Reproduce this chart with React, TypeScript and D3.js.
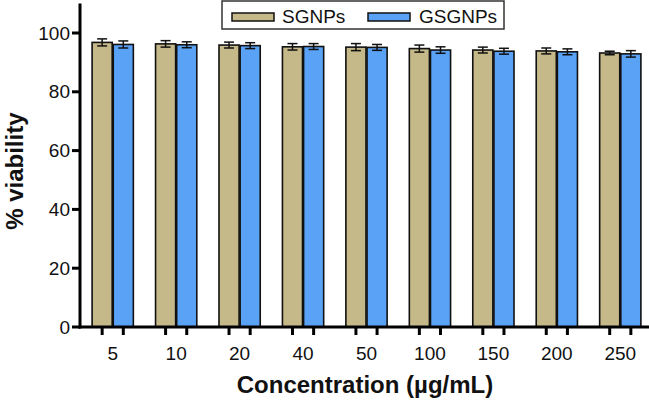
import React, { useEffect, useRef } from 'react';
import * as d3 from 'd3';

const concentrations = ['5', '10', '20', '40', '50', '100', '150', '200', '250'];
const seriesNames = ['SGNPs', 'GSGNPs'];
const sgnpValues = [96.8, 96.3, 95.9, 95.3, 95.2, 94.7, 94.2, 93.9, 93.2];
const sgnpErrors = [1.2, 1.1, 1.0, 1.1, 1.2, 1.2, 1.0, 1.0, 0.6];
const gsgnpValues = [96.1, 96.0, 95.7, 95.4, 95.1, 94.2, 93.8, 93.6, 92.9];
const gsgnpErrors = [1.2, 1.0, 1.0, 1.0, 1.0, 1.1, 1.0, 1.0, 1.1];
const yTicks = [0, 20, 40, 60, 80, 100];

const colors = ['#c5b889', '#5aa2f6'];

const App = () => {
  const ref = useRef(null);

  useEffect(() => {
    const svg = d3.select(ref.current);
    svg.selectAll('*').remove();

    const font = 'Liberation Sans, Arial, sans-serif';
    const x0 = 80;
    const y = d3.scaleLinear().domain([0, 110]).range([327, 3.6]);
    const x = d3.scaleBand().domain(concentrations).range([81, 652]).paddingInner(0.35).paddingOuter(0.175);
    const x1 = d3.scaleBand().domain(seriesNames).range([0, x.bandwidth()]).paddingInner(0.05);

    const series = [
      { name: 'SGNPs', values: sgnpValues, errors: sgnpErrors },
      { name: 'GSGNPs', values: gsgnpValues, errors: gsgnpErrors },
    ];

    // bars
    series.forEach((s, si) => {
      const g = svg.append('g');
      concentrations.forEach((c, i) => {
        const bx = x(c) + x1(s.name);
        const w = x1.bandwidth();
        g.append('rect')
          .attr('x', bx)
          .attr('y', y(s.values[i]))
          .attr('width', w)
          .attr('height', y(0) - y(s.values[i]))
          .attr('fill', colors[si])
          .attr('stroke', '#111')
          .attr('stroke-width', 1.6);
        const cx = bx + w / 2;
        const top = y(s.values[i] + s.errors[i]);
        const bot = y(s.values[i] - s.errors[i]);
        g.append('line').attr('x1', cx).attr('x2', cx).attr('y1', top).attr('y2', bot)
          .attr('stroke', '#111').attr('stroke-width', 1.5);
        [top, bot].forEach(yy => {
          g.append('line').attr('x1', cx - 5).attr('x2', cx + 5).attr('y1', yy).attr('y2', yy)
            .attr('stroke', '#111').attr('stroke-width', 1.5);
        });
      });
    });

    // y axis
    const ya = svg.append('g');
    ya.append('line').attr('x1', x0).attr('x2', x0).attr('y1', y(110)).attr('y2', y(0) + 1.5)
      .attr('stroke', '#000').attr('stroke-width', 3);
    yTicks.forEach(t => {
      ya.append('line').attr('x1', x0 - 8).attr('x2', x0).attr('y1', y(t)).attr('y2', y(t))
        .attr('stroke', '#000').attr('stroke-width', 3);
      ya.append('text').attr('x', x0 - 10).attr('y', y(t)).attr('dy', '0.35em')
        .attr('text-anchor', 'end').attr('font-family', font).attr('font-size', 19)
        .attr('fill', '#111').text(t);
    });

    // x axis
    const xa = svg.append('g');
    xa.append('line').attr('x1', x0 - 1.5).attr('x2', 649).attr('y1', y(0)).attr('y2', y(0))
      .attr('stroke', '#000').attr('stroke-width', 3);
    concentrations.forEach(c => {
      seriesNames.forEach(n => {
        const tx = x(c) + x1(n) + x1.bandwidth() / 2;
        xa.append('line').attr('x1', tx).attr('x2', tx).attr('y1', y(0)).attr('y2', y(0) + 8)
          .attr('stroke', '#000').attr('stroke-width', 3);
      });
      xa.append('text').attr('x', x(c) + x.bandwidth() / 2).attr('y', 360)
        .attr('text-anchor', 'middle').attr('font-family', font).attr('font-size', 19)
        .attr('fill', '#111').text(c);
    });

    // axis titles
    svg.append('text').attr('x', 365).attr('y', 393).attr('text-anchor', 'middle')
      .attr('font-family', font).attr('font-size', 24).attr('font-weight', 'bold')
      .attr('fill', '#111').text('Concentration (µg/mL)');
    svg.append('text').attr('transform', `translate(23,${y(53)}) rotate(-90)`)
      .attr('text-anchor', 'middle').attr('font-family', font).attr('font-size', 24)
      .attr('font-weight', 'bold').attr('fill', '#111').text('% viability');

    // legend
    const lg = svg.append('g');
    lg.append('rect').attr('x', 222).attr('y', 1).attr('width', 282).attr('height', 28)
      .attr('fill', '#fff').attr('stroke', '#333').attr('stroke-width', 1.5);
    const items = [
      { x: 232, tx: 282 },
      { x: 368, tx: 419 },
    ];
    seriesNames.forEach((n, i) => {
      lg.append('rect').attr('x', items[i].x).attr('y', 13).attr('width', 42).attr('height', 8)
        .attr('fill', colors[i]).attr('stroke', '#111').attr('stroke-width', 1.5);
      lg.append('text').attr('x', items[i].tx).attr('y', 16).attr('dy', '0.35em')
        .attr('font-family', font).attr('font-size', 19).attr('fill', '#111').text(n);
    });
  }, []);

  return (
    <svg ref={ref} width={649} height={400} style={{ position: 'absolute', left: 0, top: 0 }} />
  );
};

export default App;
